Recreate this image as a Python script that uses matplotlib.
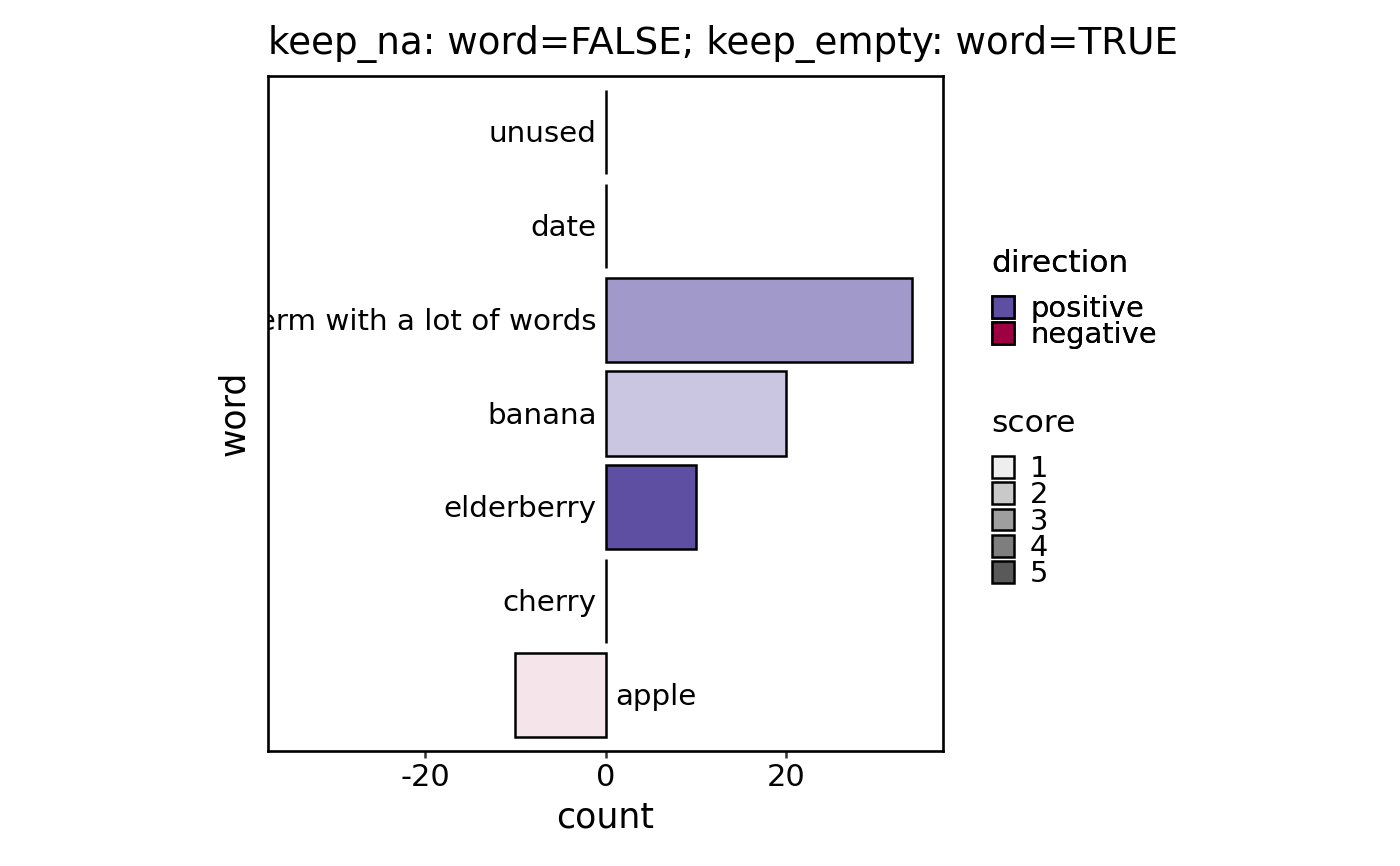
import matplotlib
matplotlib.use("Agg")
from matplotlib import pyplot as plt
from matplotlib.patches import Patch
from matplotlib.colors import to_rgba

# data, bottom row first
words = ["apple", "cherry", "elderberry", "banana",
         "a term with a lot of words", "date", "unused"]
counts = [-10, 0, 10, 20, 34, 0, 0]
direction = ["negative", "positive", "positive", "positive",
             "positive", "positive", "positive"]
score = [1, 1, 5, 2, 3, 1, 1]

dir_colors = {"positive": "#5E4FA2", "negative": "#9E0142"}
score_levels = [1, 2, 3, 4, 5]
score_alpha = {1: 0.1, 2: 0.325, 3: 0.58, 4: 0.775, 5: 1.0}

plt.rcParams["font.family"] = "DejaVu Sans"

fig = plt.figure(figsize=(14, 8.66), dpi=100)
ax = fig.add_axes([0.1914, 0.1328, 0.4822, 0.7794])

ypos = list(range(len(words)))
for y, c, d, s in zip(ypos, counts, direction, score):
    ax.barh(y, c, height=0.9, color=to_rgba(dir_colors[d], score_alpha[s]),
            edgecolor="black", linewidth=1.8, zorder=2)
    if c >= 0:
        ax.annotate(words[y], (0, y), xytext=(-6.5, -1.5), textcoords="offset points",
                    ha="right", va="center", fontsize=21.2, clip_on=True)
    else:
        ax.annotate(words[y], (0, y), xytext=(7, -1.5), textcoords="offset points",
                    ha="left", va="center", fontsize=21.2, clip_on=True)

lim = max(abs(v) for v in counts)
ax.set_xlim(-lim * 1.1, lim * 1.1)
ax.set_ylim(-0.6, len(words) - 0.4)
ax.set_xticks([-20, 0, 20])
ax.set_xticklabels(["-20", "0", "20"])
ax.set_yticks([])
ax.tick_params(axis="x", length=5, width=1.8, color="#333333",
               labelsize=22, pad=3.5)
for sp in ax.spines.values():
    sp.set_linewidth(1.9)
ax.set_xlabel("count", fontsize=25, labelpad=6)
ax.set_ylabel("word", fontsize=25, labelpad=12)
ax.set_title("keep_na: word=FALSE; keep_empty: word=TRUE", fontsize=26.8,
             loc="left", pad=16)

# legends
h1 = [Patch(facecolor=dir_colors[k], edgecolor="black", linewidth=1.8)
      for k in ["positive", "negative"]]
leg1 = fig.legend(h1, ["positive", "negative"], title="direction",
                  loc="upper left", bbox_to_anchor=(0.698, 0.729),
                  frameon=False, fontsize=20.8, title_fontsize=22.5,
                  handlelength=0.78, handleheight=0.78, labelspacing=-0.06,
                  handletextpad=0.55, alignment="left", borderpad=0)
leg1._legend_box.sep = 12
h2 = [Patch(facecolor=to_rgba("#595959", score_alpha[s]), edgecolor="black",
            linewidth=1.8) for s in score_levels]
leg2 = fig.legend(h2, [str(s) for s in score_levels], title="score",
                  loc="upper left", bbox_to_anchor=(0.698, 0.544),
                  frameon=False, fontsize=20.8, title_fontsize=22.5,
                  handlelength=0.78, handleheight=0.78, labelspacing=-0.06,
                  handletextpad=0.55, alignment="left", borderpad=0)
leg2._legend_box.sep = 12
fig.add_artist(leg1)

fig.savefig("out.png", dpi=100)
